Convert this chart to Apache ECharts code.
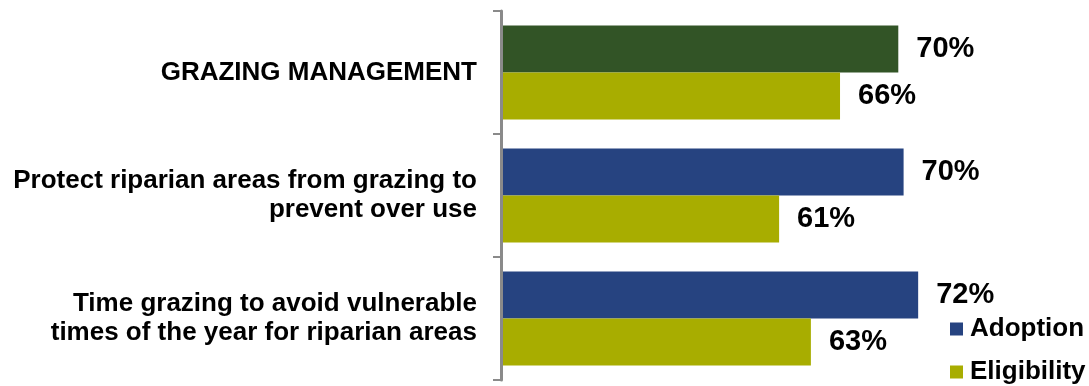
<!DOCTYPE html>
<html>
<head>
<meta charset="utf-8">
<script src="https://cdn.jsdelivr.net/npm/echarts@6/dist/echarts.min.js"></script>
<style>
  html, body { margin: 0; padding: 0; background: #ffffff; }
  #chart { width: 1089px; height: 386px; }
</style>
</head>
<body>
<div id="chart"></div>
<script>
// ---- data ----
const categories = [
  'GRAZING MANAGEMENT',
  'Protect riparian areas from grazing to\nprevent over use',
  'Time grazing to avoid vulnerable\ntimes of the year for riparian areas'
];
const seriesNames = ['Adoption', 'Eligibility'];
const adoption = [70.0, 70.4, 71.5];
const eligibility = [65.6, 61.0, 63.4];

// ---- styles ----
const FONT = "'Liberation Sans', Arial, sans-serif";
const DARK_GREEN = '#325426';
const BLUE = '#264380';
const OLIVE = '#A8AD00';
const AXIS_GRAY = '#8A8A8A';

const chart = echarts.init(document.getElementById('chart'), null, { renderer: 'canvas' });

const valueLabel = {
  show: true,
  position: 'right',
  distance: 18,
  fontFamily: FONT,
  fontWeight: 'bold',
  fontSize: 29,
  color: '#000000',
  formatter: p => Math.round(p.value) + '%'
};

function legendFor(name, top) {
  return {
    data: [name],
    orient: 'vertical',
    left: 950,
    top: top,
    padding: 0,
    icon: 'rect',
    itemWidth: 13,
    itemHeight: 13,
    textStyle: {
      fontFamily: FONT,
      fontWeight: 'bold',
      fontSize: 26,
      lineHeight: 30,
      color: '#000000',
      padding: [0, 0, 0, 2]
    }
  };
}

chart.setOption({
  animation: false,
  backgroundColor: '#ffffff',
  grid: { left: 501, right: 0, top: 11, bottom: 6, containLabel: false },
  legend: [legendFor(seriesNames[0], 314), legendFor(seriesNames[1], 357)],
  xAxis: {
    type: 'value',
    min: 40,
    max: 84.4,
    show: false,
    splitLine: { show: false }
  },
  yAxis: {
    type: 'category',
    data: categories,
    inverse: true,
    axisLine: { show: true, lineStyle: { color: AXIS_GRAY, width: 3 } },
    axisTick: { show: true, length: 8, lineStyle: { color: AXIS_GRAY, width: 2 } },
    axisLabel: {
      margin: 24,
      fontFamily: FONT,
      fontWeight: 'bold',
      fontSize: 26,
      lineHeight: 29,
      color: '#000000',
      align: 'right'
    },
    splitLine: { show: false },
    z: 5
  },
  series: [
    {
      name: seriesNames[0],
      type: 'bar',
      barWidth: 47,
      barGap: '0%',
      itemStyle: { color: BLUE },
      label: valueLabel,
      data: adoption.map((v, i) => i === 0 ? { value: v, itemStyle: { color: DARK_GREEN } } : v)
    },
    {
      name: seriesNames[1],
      type: 'bar',
      barWidth: 47,
      barGap: '0%',
      itemStyle: { color: OLIVE },
      label: valueLabel,
      data: eligibility
    }
  ]
});
</script>
</body>
</html>
